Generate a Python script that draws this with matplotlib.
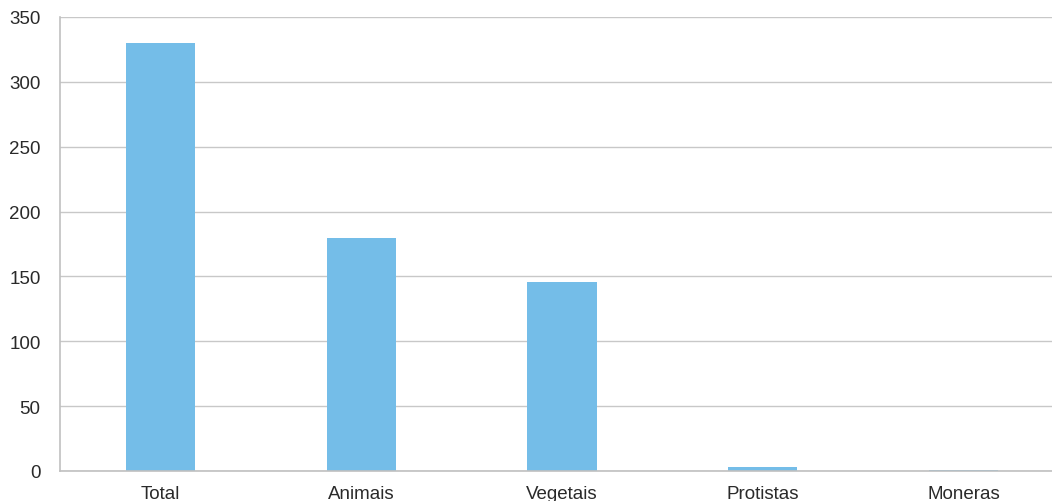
import matplotlib
matplotlib.use("Agg")
import matplotlib.pyplot as plt

categories = ["Total", "Animais", "Vegetais", "Protistas", "Moneras"]
values = [330, 180, 146, 3, 0.6]

plt.rcParams["font.family"] = ["Liberation Sans", "DejaVu Sans"]

fig = plt.figure(figsize=(10.52, 5.02), dpi=100)
# the plot area runs a little past the right edge of the picture
ax = fig.add_axes([60 / 1052, 30 / 502, 1004 / 1052, 454 / 502])

x = range(len(categories))
ax.bar(x, values, width=0.344, color="#74bde8", zorder=2)

ax.set_xlim(-0.5, len(categories) - 0.5)
ax.set_ylim(0, 350)
ax.set_yticks(range(0, 351, 50))
ax.set_xticks(list(x))
ax.set_xticklabels(categories)
ax.grid(axis="y", color="#c8c8c8", linewidth=1, zorder=0)
ax.tick_params(length=0, labelsize=13.5, colors="#2a2a2a")
ax.tick_params(axis="y", pad=14)
ax.tick_params(axis="x", pad=10)

for side in ("top", "right"):
    ax.spines[side].set_visible(False)
for side in ("left", "bottom"):
    ax.spines[side].set_color("#c0c0c0")
    ax.spines[side].set_linewidth(1.2)

fig.savefig("out.png", dpi=100)
